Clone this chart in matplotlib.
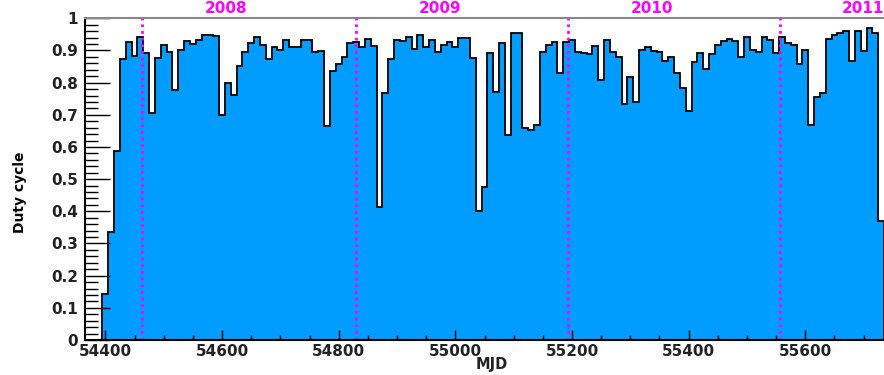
import matplotlib
matplotlib.use("Agg")
import matplotlib.pyplot as plt
import numpy as np
from matplotlib.ticker import MultipleLocator, FixedLocator, FixedFormatter

# 10-day bins starting at MJD 54365
bin_start = 54365
bin_width = 10
duty_cycle = [
    0.000, 0.000, 0.000, 0.143, 0.335, 0.588, 0.873, 0.927, 0.884, 0.943,
    0.891, 0.707, 0.877, 0.917, 0.894, 0.777, 0.903, 0.930, 0.921, 0.932,
    0.948, 0.948, 0.946, 0.700, 0.800, 0.761, 0.852, 0.895, 0.922, 0.943,
    0.917, 0.872, 0.910, 0.901, 0.931, 0.911, 0.911, 0.931, 0.931, 0.895,
    0.899, 0.665, 0.835, 0.859, 0.879, 0.924, 0.927, 0.912, 0.936, 0.915,
    0.414, 0.767, 0.874, 0.933, 0.929, 0.943, 0.904, 0.948, 0.912, 0.933,
    0.896, 0.917, 0.925, 0.912, 0.938, 0.938, 0.877, 0.401, 0.475, 0.891,
    0.772, 0.922, 0.637, 0.954, 0.954, 0.660, 0.653, 0.669, 0.895, 0.916,
    0.926, 0.831, 0.926, 0.932, 0.895, 0.893, 0.889, 0.915, 0.808, 0.934,
    0.895, 0.881, 0.734, 0.818, 0.739, 0.901, 0.910, 0.899, 0.894, 0.867,
    0.879, 0.831, 0.782, 0.713, 0.863, 0.893, 0.843, 0.889, 0.917, 0.930,
    0.936, 0.930, 0.879, 0.943, 0.903, 0.894, 0.943, 0.932, 0.891, 0.943,
    0.924, 0.917, 0.857, 0.901, 0.668, 0.754, 0.767, 0.936, 0.948, 0.953,
    0.959, 0.867, 0.959, 0.899, 0.969, 0.955, 0.370,
]

# new-year markers and year captions
year_lines = [54463, 54829, 55193, 55556]
year_labels = ["2008", "2009", "2010", "2011"]
year_label_pos = [54607, 54973, 55337, 55699]

edges = bin_start + bin_width * np.arange(len(duty_cycle) + 1)

fig = plt.figure(figsize=(8.84, 3.75), dpi=100)
ax = fig.add_axes([85 / 884, 35 / 375, 799 / 884, 321.7 / 375])

ax.stairs(duty_cycle, edges, fill=True, facecolor="#009dff",
          edgecolor="black", linewidth=1.3, zorder=1)

for x in year_lines:
    ax.axvline(x, color="#ff00ff", linestyle=(0, (1.0, 1.4)), linewidth=2.0, zorder=2)

for label, x in zip(year_labels, year_label_pos):
    ax.text(x, 1.029, label, transform=ax.get_xaxis_transform(), ha="center",
            va="center", color="#ff00ff", fontsize=11, fontweight="bold",
            clip_on=False)

ax.set_xlim(54365, 55735)
ax.set_ylim(0, 1)

ax.xaxis.set_major_locator(MultipleLocator(200))
ax.xaxis.set_minor_locator(MultipleLocator(50))
yticks = np.round(np.arange(0, 1.01, 0.1), 1)
ax.yaxis.set_major_locator(FixedLocator(yticks))
ax.yaxis.set_major_formatter(FixedFormatter(["0"] + [f"{v:g}" for v in yticks[1:-1]] + ["1"]))
ax.yaxis.set_minor_locator(MultipleLocator(0.02))

ax.tick_params(axis="x", which="major", direction="in", length=7.5, width=1.0, pad=3)
ax.tick_params(axis="x", which="minor", direction="in", length=3.8, width=1.0)
ax.tick_params(axis="y", which="major", direction="in", length=18, width=1.0, pad=5)
ax.tick_params(axis="y", which="minor", direction="in", length=9, width=1.0)
ax.tick_params(top=False, right=False, which="both")
for lab in ax.get_xticklabels() + ax.get_yticklabels():
    lab.set_fontweight("bold")
    lab.set_fontsize(11)
    lab.set_color("#222222")

ax.spines["right"].set_visible(False)
ax.spines["top"].set_color("#888888")
ax.spines["top"].set_linewidth(1.5)
ax.spines["left"].set_linewidth(1.5)
ax.spines["bottom"].set_linewidth(1.5)

# axis titles placed in figure coordinates
fig.text(492 / 884, 1 - 364 / 375, "MJD", ha="center", va="center",
         fontsize=10.5, fontweight="bold", color="#222222")
fig.text(20 / 884, 1 - 192 / 375, "Duty cycle", rotation=90, ha="center",
         va="center", fontsize=10, fontweight="bold")

fig.savefig("out.png", dpi=100)
